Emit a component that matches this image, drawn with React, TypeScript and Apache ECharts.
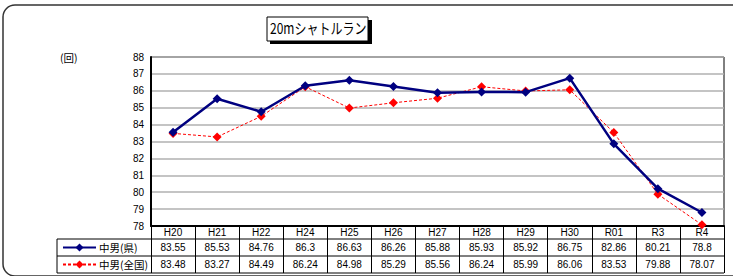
import React, { useEffect, useRef } from "react";
import * as echarts from "echarts";

const categories = ["H20", "H21", "H22", "H24", "H25", "H26", "H27", "H28", "H29", "H30", "R01", "R3", "R4"];
const prefValues = [83.55, 85.53, 84.76, 86.3, 86.63, 86.26, 85.88, 85.93, 85.92, 86.75, 82.86, 80.21, 78.8];
const nationalValues = [83.48, 83.27, 84.49, 86.24, 84.98, 85.29, 85.56, 86.24, 85.99, 86.06, 83.53, 79.88, 78.07];
const seriesNames = ["中男(県)", "中男(全国)"];
const titleText = "20mシャトルラン";
const unitText = "(回)";

const W = 733;
const H = 276;
const GRID_L = 151;
const GRID_T = 57;
const GRID_R = 724;
const GRID_B = 226;
const TABLE_L = 57;
const ROW1 = 239;
const ROW2 = 256;
const ROW3 = 273;

export default function App() {
  const ref = useRef<HTMLDivElement>(null);
  useEffect(() => {
    if (!ref.current) return;
    const chart = echarts.init(ref.current, null, { renderer: "svg" });
    const font = "'Liberation Sans', Arial, 'Noto Sans CJK JP', sans-serif";
    const cjk = "'Noto Sans CJK JP', sans-serif";
    const lineEl = (x1: number, y1: number, x2: number, y2: number, w = 1) => ({
      type: "line",
      shape: { x1, y1, x2, y2 },
      style: { stroke: "#000", lineWidth: w },
      silent: true,
    });
    chart.setOption({
      animation: false,
      backgroundColor: "#fff",
      textStyle: { fontFamily: font },
      grid: {
        left: GRID_L,
        top: GRID_T,
        right: W - GRID_R,
        bottom: H - GRID_B,
        show: true,
        borderColor: "#000",
        borderWidth: 1,
        backgroundColor: "transparent",
      },
      legend: {
        orient: "vertical",
        left: 62,
        top: 241,
        height: 60,
        padding: 0,
        itemWidth: 33,
        itemHeight: 10,
        itemGap: 4,
        textStyle: { fontSize: 10.5, lineHeight: 13, color: "#000", fontFamily: cjk, padding: [0, 0, 0, -2] },
        data: seriesNames,
      },
      xAxis: {
        type: "category",
        data: categories,
        boundaryGap: true,
        axisLine: { show: true, lineStyle: { color: "#000", width: 2 } },
        axisTick: { show: true, length: ROW3 - GRID_B, lineStyle: { color: "#000", width: 1 } },
        axisLabel: {
          margin: 0,
          interval: 0,
          formatter: (v: string, i: number) => `{h|${v}}\n{v|${prefValues[i]}}\n{v|${nationalValues[i]}}`,
          rich: {
            h: { fontSize: 10, lineHeight: 13, color: "#000", fontFamily: font },
            v: { fontSize: 10, lineHeight: 17, color: "#000", fontFamily: font },
          },
        },
        splitLine: { show: false },
      },
      yAxis: {
        type: "value",
        min: 78,
        max: 88,
        interval: 1,
        axisLine: { show: true, lineStyle: { color: "#000", width: 2 } },
        axisTick: { show: false },
        axisLabel: { fontSize: 10, color: "#000", margin: 7, fontFamily: font },
        splitLine: { show: true, lineStyle: { color: "#b0b0b0", width: 1.5 } },
      },
      series: [
        {
          name: seriesNames[0],
          type: "line",
          data: prefValues,
          symbol: "diamond",
          symbolSize: 9,
          z: 3,
          lineStyle: { color: "#000080", width: 2.5 },
          itemStyle: { color: "#000080" },
        },
        {
          name: seriesNames[1],
          type: "line",
          data: nationalValues,
          symbol: "diamond",
          symbolSize: 9,
          z: 2,
          lineStyle: { color: "#ff0000", width: 1, type: [3, 2] },
          itemStyle: { color: "#ff0000" },
        },
      ],
      graphic: [
        {
          type: "rect",
          shape: { x: 3, y: 5, width: 760, height: 271, r: 12 },
          style: { fill: "none", stroke: "#333", lineWidth: 1.5 },
          silent: true,
          z: -10,
        },
        { type: "rect", shape: { x: 270, y: 20, width: 102, height: 24 }, style: { fill: "#000" }, silent: true },
        { type: "rect", shape: { x: 267, y: 17, width: 101, height: 24 }, style: { fill: "#fff", stroke: "#000", lineWidth: 1 }, silent: true },
        {
          type: "text",
          x: 270,
          y: 20,
          scaleX: 0.8,
          style: { text: titleText, fontSize: 15, fill: "#000", fontFamily: cjk },
          silent: true,
        },
        {
          type: "text",
          x: 60,
          y: 52,
          style: { text: unitText, fontSize: 10.5, fill: "#000", fontFamily: cjk },
          silent: true,
        },
        lineEl(TABLE_L, ROW1, GRID_R, ROW1),
        lineEl(TABLE_L, ROW2, GRID_R, ROW2),
        lineEl(TABLE_L, ROW3, GRID_R, ROW3),
        lineEl(TABLE_L, ROW1, TABLE_L, ROW3),
      ],
    });
    return () => chart.dispose();
  }, []);
  return <div ref={ref} style={{ position: "absolute", left: 0, top: 0, width: W, height: H }} />;
}
